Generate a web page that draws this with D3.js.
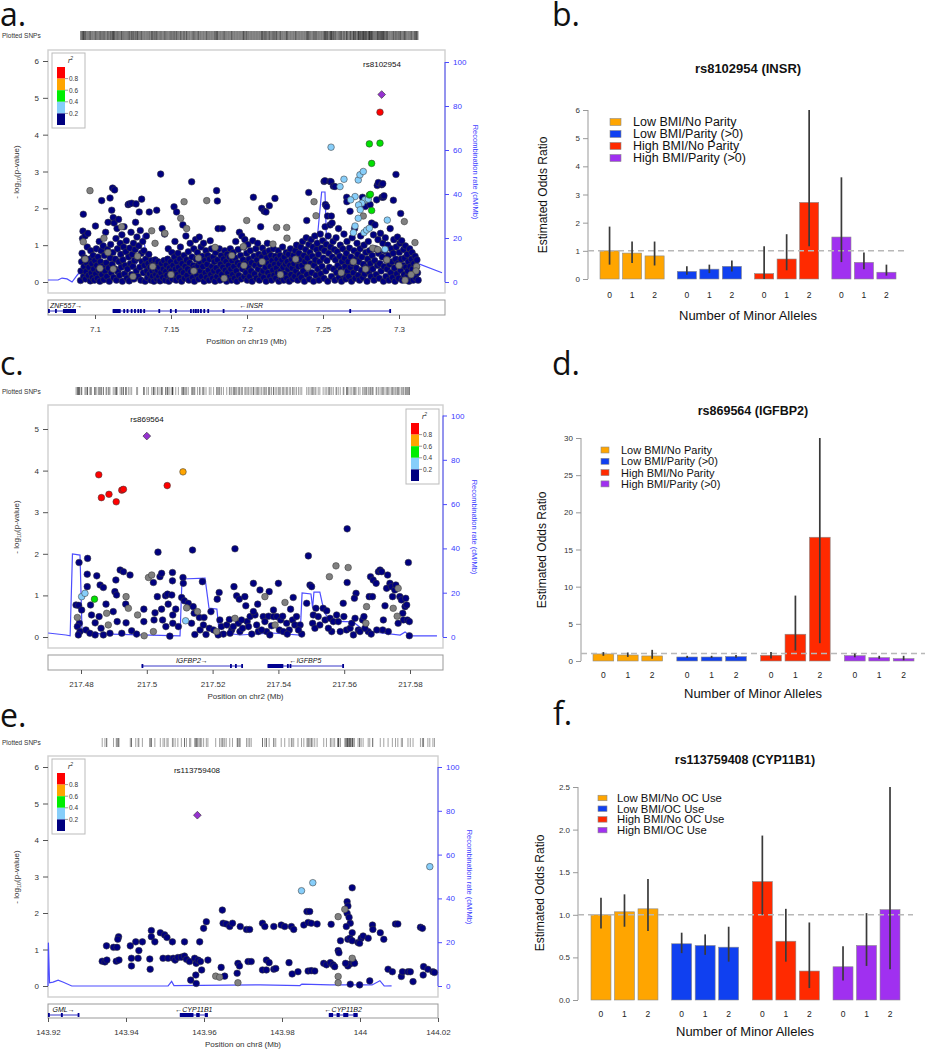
<!DOCTYPE html>
<html><head><meta charset="utf-8">
<script src="https://cdn.jsdelivr.net/npm/d3@7"></script>
<style>
body{margin:0;background:#fff}
svg{display:block}
text{font-family:"Liberation Sans",Arial,sans-serif}
.letter{font-family:"Open Sans","Noto Sans",sans-serif;font-size:32px;fill:#111}
</style>
</head><body><script>
// ================= DATA =================
// ---- Panel a: chr19 INSR region (pos Mb, -log10 p) ----
const navyA=[[7.0905,0.04],[7.0908,0.3],[7.0912,0.55],[7.0915,0.78],[7.0918,1.18],[7.0921,1.38],[7.0923,1.84],[7.0925,0.15],[7.0928,0.42],[7.0931,0.66],[7.0935,1.25],[7.0938,0.08],[7.0942,0.28],[7.0946,0.52],[7.0949,0.95],[7.0953,1.32],[7.0957,0.18],[7.0961,0.4],[7.0965,0.62],[7.0969,0.03],[7.0972,0.85],[7.0976,0.25],[7.098,0.5],[7.0984,0.12],[7.0988,0.72],[7.0992,0.35],[7.0996,0.05],[7.1,0.58],[7.1003,1.52],[7.1005,0.22],[7.1009,0.9],[7.1012,0.45],
[7.1016,0.1],[7.102,0.68],[7.1024,0.32],[7.1028,1.1],[7.1032,0.02],[7.1036,0.55],[7.104,0.85],[7.1044,2.21],[7.1046,0.2],[7.105,0.42],[7.1054,0.98],[7.1058,0.06],[7.1062,0.72],[7.1066,0.3],[7.107,1.35],[7.1074,0.52],[7.1078,0.15],[7.1082,0.88],[7.1086,1.62],[7.109,0.38],[7.1094,0.02],[7.1099,2.28],[7.11,0.65],[7.1103,1.02],[7.1107,0.25],[7.111,1.95],[7.1113,0.48],[7.1116,2.55],[7.1118,0.8],[7.112,1.75],[7.1122,0.12],[7.1126,1.6],[7.1129,2.5],[7.113,0.36],[7.1134,0.62],[7.1138,1.18],[7.1141,0.05],[7.1145,1.45],[7.1148,0.9],[7.1151,0.28],[7.1155,1.7],[7.1158,0.55],[7.1162,0.18],[7.1166,1.05],[7.117,0.75],[7.1173,0.4],[7.1177,1.28],[7.118,0.02],[7.1184,0.6],[7.1188,0.95],[7.1191,1.5],[7.1195,0.22],[7.1199,0.45],[7.1203,0.82],[7.1206,1.12],[7.121,0.1],[7.1214,0.35],[7.1218,2.1],[7.1221,0.68],[7.1225,0.03],[7.1226,2.12],[7.1229,0.92],[7.1233,0.5],[7.1237,1.35],[7.124,0.2],[7.1242,2.14],[7.1245,0.75],[7.1249,0.42],[7.1253,1.05],[7.1256,0.08],[7.126,0.58],[7.127,2.12],[7.1264,0.88],[7.1267,1.62],[7.1272,0.3],[7.1276,1.22],[7.128,0.65],[7.1283,0.15],[7.1287,0.98],[7.1291,1.9],[7.1295,0.4],[7.1298,1.4],[7.1302,0.05],[7.1305,0.78],[7.1307,2.25],[7.131,0.55],[7.1314,1.1],[7.1318,0.25],
[7.1322,0.85],[7.1326,0.45],[7.133,0.02],[7.1334,0.62],[7.1338,1.25],[7.1342,0.3],[7.1346,0.12],[7.135,0.5],[7.1354,0.75],[7.1357,1.9],[7.136,0.22],[7.1364,0.4],[7.1368,0.05],[7.1372,0.58],[7.1376,0.3],[7.138,0.15],[7.1384,0.48],[7.1388,0.02],[7.1392,0.36],[7.1396,0.6],[7.14,0.2],[7.1404,0.45],[7.1406,1.95],[7.1408,0.08],[7.1412,0.32],[7.1416,0.55],[7.142,0.15],[7.1424,0.4],[7.1428,0.03],[7.1432,2.93],[7.1434,0.25],[7.1438,0.5],[7.1442,1.45],[7.1446,0.12],[7.145,0.35],[7.1454,0.58],[7.1458,1.3],[7.1462,0.05],[7.1466,0.28],[7.147,0.46],[7.1474,0.18],[7.1478,0.62],[7.1482,0.9],[7.1486,0.02],[7.149,0.38],[7.1494,0.15],[7.1498,0.55],[7.1502,0.3],[7.1506,0.8],[7.151,0.08],[7.1514,0.45],[7.152,2.04],[7.1518,0.22],[7.1522,0.68],[7.1526,1.1],[7.153,0.35],[7.1537,1.9],
[7.1534,0.05],[7.1538,0.55],[7.1542,0.2],[7.1546,0.78],[7.155,0.4],[7.1554,0.12],[7.1558,0.62],[7.1562,0.95],[7.1566,0.3],[7.157,0.02],[7.1574,0.5],[7.1578,1.55],[7.1582,0.25],[7.1586,0.72],[7.159,0.1],[7.1594,0.42],[7.1598,1.25],[7.1602,0.6],[7.1606,0.18],[7.161,0.35],[7.1614,0.82],[7.1618,0.05],[7.1622,0.52],[7.1626,1.05],[7.163,0.28],[7.1636,2.72],[7.1638,0.68],[7.1642,0.12],[7.1646,0.45],[7.165,0.9],[7.1654,0.02],[7.1658,0.38],[7.1662,1.15],[7.1666,0.62],[7.167,0.2],[7.1674,0.8],[7.1678,0.45],[7.1682,0.08],[7.1686,1.22],[7.169,0.55],[7.1694,0.3],[7.1698,0.95],[7.1702,0.15],[7.1706,0.7],[7.171,0.42],[7.1714,1.05],[7.1718,0.02],[7.1722,0.58],[7.1726,0.25],[7.173,0.85],[7.1734,0.12],[7.1738,0.48],[7.1742,0.72],[7.1746,0.32],[7.175,0.05],[7.1754,0.62],[7.1758,1.12],[7.1762,0.2],[7.1766,0.9],[7.177,0.42],[7.1774,0.1],[7.1778,0.68],[7.18,2.48],[7.1805,2.2],[7.1782,0.3],[7.1786,0.55],[7.179,0.02],[7.1794,0.8],[7.1798,0.38],[7.1802,0.15],[7.1806,0.6],[7.181,1.45],[7.1814,0.28],[7.1818,0.9],[7.1822,0.05],[7.1826,0.48],[7.183,0.72],[7.1834,0.2],[7.1838,1.45],[7.1842,0.4],[7.1846,0.62],[7.185,0.1],[7.1854,0.85],[7.1858,0.32],[7.1862,0.55],[7.1866,0.02],[7.187,0.75],[7.1874,0.25],[7.1878,0.45],[7.1882,0.12],[7.1886,0.68],[7.189,0.9],[7.1894,0.35],[7.1898,0.05],[7.1902,0.58],[7.1906,0.2],[7.191,0.8],[7.1914,0.42],[7.1918,0.1],[7.1922,0.65],[7.1926,1.1],[7.193,0.3],[7.1934,0.02],[7.1938,0.52],[7.1942,0.88],[7.1946,0.18],[7.195,1.35],[7.1954,0.45],[7.1958,0.72],[7.1962,0.08],[7.1966,1.25],[7.197,0.35],[7.1974,0.6],[7.1978,0.95],[7.1982,0.15],[7.1986,1.15],[7.199,0.5],[7.1994,0.25],
[7.1998,0.78],[7.2002,0.05],[7.2006,1.02],[7.201,0.4],[7.2014,0.62],[7.2018,0.15],[7.2022,0.85],[7.2026,0.3],[7.203,0.52],[7.2034,0.02],[7.2038,1.12],[7.2042,2.3],[7.2046,0.7],[7.205,0.22],[7.2054,0.45],[7.2058,0.9],[7.2062,0.1],[7.2066,0.6],[7.207,1.05],[7.2074,0.35],[7.2078,0.75],[7.2082,0.05],[7.2086,0.48],[7.209,1.5],[7.2094,0.2],[7.2097,2.0],[7.2098,0.68],[7.2102,0.92],[7.2106,0.3],[7.211,0.12],[7.2113,1.92],[7.2114,0.55],[7.2118,0.8],[7.2122,0.4],[7.2125,1.9],[7.2126,0.02],[7.213,0.65],[7.2134,1.05],[7.2138,0.25],[7.2142,0.5],[7.2147,2.07],[7.2146,0.85],[7.215,0.15],[7.2154,0.42],[7.2158,0.72],[7.2162,0.05],[7.2166,0.58],[7.217,0.32],[7.2174,0.9],[7.2178,0.18],[7.2184,2.27],[7.2182,0.48],[7.2186,0.7],[7.219,0.1],[7.2194,0.38],[7.2198,0.62],[7.2202,0.25],[7.2206,0.85],[7.221,0.02],[7.2214,0.5],[7.2218,0.72],[7.2222,0.3],[7.2226,0.12],[7.223,0.6],[7.2234,0.95],[7.2238,0.4],[7.2242,0.05],[7.2246,0.68],[7.225,0.22],[7.2254,0.48],[7.2258,0.8],[7.2262,0.1],[7.2266,0.55],[7.227,0.35],[7.2274,0.75],[7.2278,0.02],[7.2282,0.45],[7.2286,0.9],[7.229,0.2],[7.2294,0.62],[7.2298,0.38],[7.2302,0.08],[7.2306,0.72],[7.231,0.5],[7.2314,0.15],[7.2318,0.85],[7.2322,0.3],[7.2326,1.0],[7.233,0.58],[7.2334,0.05],[7.2338,0.42],[7.2342,0.78],[7.2346,0.2],
[7.235,0.62],[7.2354,0.95],[7.2358,0.12],[7.2362,0.45],[7.2366,1.1],[7.237,0.3],[7.2374,0.72],[7.2378,0.02],[7.2382,0.55],[7.2386,0.88],[7.239,1.2],[7.2393,1.67],[7.2394,0.2],[7.2398,0.65],[7.2402,0.4],[7.2406,2.43],[7.2407,1.02],[7.241,0.08],[7.2414,0.8],[7.2418,0.5],[7.2422,1.15],[7.2426,0.25],[7.243,0.7],[7.2434,0.95],[7.2438,0.02],[7.2442,0.45],[7.2446,1.25],[7.245,0.6],[7.2454,0.18],[7.2458,0.88],[7.2462,1.05],[7.2466,0.35],[7.247,0.75],[7.2474,0.05],[7.2478,0.55],[7.2482,1.3],[7.2486,0.22],[7.249,0.92],[7.2494,0.42],[7.2498,1.12],[7.2502,0.65],[7.2507,2.73],[7.2506,0.1],[7.251,0.85],[7.2513,2.75],[7.2514,1.5],[7.2516,2.1],[7.2518,0.3],[7.2522,1.02],[7.2524,2.05],[7.2526,0.58],[7.253,1.79],[7.2531,0.02],[7.2534,1.25],[7.2538,0.78],[7.2542,0.4],[7.2546,2.73],[7.2547,1.55],[7.255,0.95],[7.2553,2.72],[7.2555,1.79],[7.2556,0.15],[7.256,1.6],[7.2562,0.68],[7.2566,1.1],[7.2568,2.6],[7.257,0.35],[7.2574,0.88],[7.2579,2.59],
[7.2578,0.05],[7.2582,0.6],[7.2586,1.2],[7.259,0.25],[7.2594,0.82],[7.2598,0.45],[7.2602,1.45],[7.2606,0.12],[7.261,0.7],[7.2614,1.0],[7.2618,0.35],[7.2622,0.02],[7.2626,0.55],[7.263,0.9],[7.2634,0.2],[7.2638,1.3],[7.2642,0.65],[7.2646,0.42],[7.265,0.08],[7.2656,2.3],[7.2657,2.18],[7.2654,0.78],[7.2658,1.1],[7.2662,0.3],[7.2666,0.55],[7.267,0.15],[7.2674,0.92],[7.2678,1.92],[7.268,0.4],[7.2684,0.68],[7.2688,0.02],[7.2692,1.2],[7.2696,0.5],[7.27,0.25],[7.2704,0.85],[7.2708,1.45],[7.2712,0.1],[7.2716,0.62],[7.272,0.38],[7.2724,1.05],[7.2728,0.75],[7.2732,0.18],[7.2736,0.55],[7.274,0.05],[7.2744,0.9],[7.2748,1.25],[7.2752,0.32],[7.2756,0.68],[7.276,2.3],[7.2762,0.12],[7.2766,0.48],[7.277,1.0],[7.2774,0.22],[7.2778,2.05],[7.2782,0.8],[7.2786,0.4],[7.279,0.02],[7.2794,0.62],[7.2798,1.1],[7.2802,0.28],[7.2806,0.85],[7.281,2.1],[7.2812,0.5],[7.2816,0.15],[7.282,1.6],[7.2824,0.72],[7.2828,0.35],[7.2832,1.28],[7.2836,0.05],[7.284,0.58],[7.2842,1.55],[7.2846,0.9],[7.285,0.2],[7.2853,2.23],[7.2857,2.62],[7.2858,0.45],[7.2862,1.15],[7.2864,2.7],[7.2866,0.78],[7.287,0.1],[7.2874,0.5],[7.2878,1.32],[7.2882,0.3],[7.2886,2.64],[7.2888,2.3],[7.2893,2.67],[7.2897,2.3],[7.289,0.68],[7.2894,1.05],[7.2898,0.02],[7.2901,2.34],[7.2902,0.42],[7.2906,0.85],[7.291,1.2],[7.2914,0.15],[7.2918,0.6],[7.2922,0.35],[7.2926,1.0],[7.293,0.72],[7.2934,0.05],[7.2938,0.48],[7.2942,1.45],[7.2946,0.25],[7.295,0.9],[7.2954,0.55],[7.2958,0.12],[7.2963,2.22],[7.2962,0.78],[7.2966,1.15],[7.297,0.38],[7.2974,0.02],[7.298,2.92],[7.2978,0.62],[7.2982,0.95],[7.2986,0.22],[7.299,1.22],[7.2994,0.5],[7.2998,0.1],[7.3002,0.8],[7.3006,1.05],[7.3011,1.86],[7.301,0.32],[7.3014,0.62],[7.3018,1.12],[7.3022,0.05],[7.3026,0.45],[7.303,0.88],[7.3034,0.2],[7.3038,0.65],[7.3042,0.98],[7.3046,0.4],[7.305,0.12],[7.3054,0.75],[7.3058,0.3],[7.3062,0.55],[7.3066,0.02],[7.307,0.9],[7.3074,0.42],[7.3078,0.18],[7.3082,0.62],[7.3086,0.8],[7.309,0.35],[7.3094,0.05],[7.3098,0.5],[7.3102,0.22],[7.3106,0.7],[7.311,0.12],[7.3114,0.42],[7.3118,0.6],[7.3122,0.25],[7.3126,0.05]];
const grayA=[[7.0967,2.48],[7.0923,1.09],[7.1059,1.19],[7.1175,1.5],[7.1373,1.39],[7.1395,1.05],[7.146,1.32],[7.1564,1.73],[7.1586,2.18],[7.1603,1.45],[7.1735,2.21],[7.179,0.94],[7.1976,0.96],[7.1998,1.67],[7.2171,1.03],[7.2195,1.48],[7.2261,1.48],[7.2263,1.19],[7.2441,2.18],[7.2454,1.8],[7.2765,1.79],[7.2827,0.92],[7.3035,1.64],[7.3105,1.07],[7.3116,0.42],[7.304,0.05],[7.3112,0.3],[7.1033,0.37],[7.112,0.35],[7.125,0.15],[7.138,0.42],[7.15,0.2],[7.165,0.3],[7.185,0.1],[7.198,0.45],[7.21,0.55],[7.222,0.2],[7.24,0.4],[7.262,0.25],[7.278,0.35],[7.292,0.6],[7.3,0.45],[7.308,0.2],[7.0935,0.62],[7.1085,0.8],[7.128,0.7],[7.168,0.65],[7.19,0.72],[7.232,0.62],[7.27,0.55],[7.286,0.88]];
const lightblueA=[[7.2553,3.66],[7.2612,2.59],[7.2638,2.79],[7.2732,2.77],[7.2743,2.91],[7.2765,3.0],[7.2711,2.32],[7.2682,2.23],[7.2776,2.23],[7.2755,2.14],[7.2734,2.09],[7.2745,1.96],[7.2798,2.25],[7.2732,1.73],[7.2711,1.52],[7.27,1.34],[7.277,1.34],[7.2787,1.41],[7.2805,1.46],[7.2923,1.68],[7.2908,0.89]];
const greenA=[[7.2805,3.75],[7.2875,3.77],[7.282,3.22],[7.2805,2.36],[7.2812,2.38],[7.282,1.94]];
const orangeA=[];
const redA=[[7.2875,4.61]];
const leadA={name:"rs8102954",pos:7.2886,logp:5.09};
const recombA=[[7.0691,0.9],[7.0757,0.9],[7.0783,1.8],[7.0816,1.4],[7.0849,0],[7.0888,3.6],[7.0921,4.5],[7.1033,5.5],[7.1263,7.3],[7.1296,10.9],[7.1316,21.4],[7.1336,12.3],[7.1362,7.3],[7.148,9],[7.1507,6.8],[7.202,5.5],[7.2349,4.5],[7.2454,5.5],[7.246,18.2],[7.2491,40.9],[7.2513,40.9],[7.2523,19.1],[7.2546,10.9],[7.2743,9.1],[7.3053,9.1],[7.3118,8.6],[7.3283,4.2]];
const genesA=[
 {name:"ZNF557",strand:1,start:7.0691,end:7.0875,exons:[[7.0691,7.0697],[7.0737,7.0748],[7.0789,7.0875]]},
 {name:"INSR",strand:-1,start:7.1116,end:7.2941,exons:[[7.1116,7.1169],[7.1186,7.1189],[7.1208,7.1211],[7.1235,7.1238],[7.1257,7.126],[7.1279,7.1282],[7.1296,7.1299],[7.1318,7.1321],[7.1417,7.142],[7.1493,7.1496],[7.1526,7.1529],[7.1625,7.1628],[7.1643,7.1646],[7.1658,7.1661],[7.1673,7.1676],[7.1691,7.1694],[7.1713,7.1716],[7.1739,7.1742],[7.184,7.1843],[7.2673,7.2676],[7.2936,7.2941]]}];
const xTicksA=[7.1,7.15,7.2,7.25,7.3];

// ---- Panel c: chr2 IGFBP2 region ----
const navyC=[[217.4794,1.79],[217.482,1.89],[217.4819,1.51],[217.4848,1.47],[217.4785,0.77],[217.4793,0.76],[217.4795,0.33],[217.4789,0.25],[217.4797,0.13],[217.4792,0.05],[217.4802,0.65],[217.4819,1.21],[217.4829,0.77],[217.4832,0.53],[217.4815,0.17],[217.4827,0.09],[217.4843,0.34],[217.4855,0.49],[217.4858,1.25],[217.4868,1.19],[217.4861,0.21],[217.4843,0.05],[217.4876,0.79],[217.4898,0.61],[217.4903,1.09],[217.4908,1.01],[217.4906,1.37],[217.4919,1.61],[217.4929,1.57],[217.4936,0.79],[217.4949,1.49],[217.491,0.37],[217.4888,0.09],[217.4868,0.05],[217.4924,0.09],[217.4937,0.34],[217.4954,0.15],[217.4969,0.07],[217.4991,0.67],[217.4991,0.37],[217.502,1.31],[217.5025,0.58],[217.5022,0.41],[217.5034,2.04],[217.504,1.45],[217.5045,1.53],[217.5048,0.41],[217.5045,0.67],[217.5032,0.97],[217.5057,0.99],[217.5063,1.03],[217.5076,1.01],[217.5078,1.55],[217.5078,1.35],[217.5065,0.79],[217.5058,0.25],[217.507,0.02],[217.5079,0.53],[217.5079,0.33],[217.5088,0.67],[217.5096,0.25],[217.5106,0.95],[217.511,1.43],[217.5111,1.29],[217.5114,0.87],[217.5126,0.81],[217.5139,2.09],[217.5141,0.73],[217.5136,0.33],[217.5144,0.57],[217.516,0.47],[217.5146,0.06],[217.5162,0.17],[217.5172,0.29],[217.5169,1.33],[217.5174,0.47],[217.518,0.06],[217.519,0.21],[217.5195,0.61],[217.5214,0.91],[217.522,1.07],[217.5222,0.41],[217.5227,0.25],[217.5233,0.07],[217.5243,0.29],[217.5251,0.42],[217.5258,0.17],[217.5265,1.21],[217.5268,2.12],[217.5273,0.99],[217.5278,0.33],[217.5283,0.13],[217.5281,0.91],[217.5298,0.97],[217.5301,0.75],[217.5305,0.37],[217.5314,0.49],[217.5309,0.25],[217.5324,1.29],[217.5329,0.53],[217.5334,0.29],[217.5337,0.79],[217.5339,0.13],[217.5344,1.13],[217.5354,0.49],[217.5359,0.37],[217.5364,0.13],[217.5372,1.09],[217.537,0.5],[217.5379,0.27],[217.5385,0.49],[217.5395,0.49],[217.54,1.29],[217.5403,0.17],[217.5407,0.41],[217.5413,0.5],[217.5425,0.33],[217.5433,0.17],[217.5437,0.67],[217.5443,0.41],[217.5445,0.95],[217.545,0.29],[217.5455,0.49],[217.5466,0.29],[217.5471,0.07],[217.5486,0.81],[217.5491,1.95],[217.5496,1.25],[217.5501,1.21],[217.5506,0.53],[217.5504,0.33],[217.5511,0.21],[217.5514,0.69],[217.5521,0.49],[217.5526,0.29],[217.5536,0.69],[217.5547,0.63],[217.5542,0.41],[217.5557,0.45],[217.5567,0.37],[217.5562,0.13],[217.5577,0.53],[217.5582,0.37],[217.5599,0.49],[217.5597,0.81],[217.5609,2.6],[217.5609,1.31],[217.5607,0.17],[217.5618,0.21],[217.5623,0.33],[217.5633,0.45],[217.5636,1.05],[217.5631,0.93],[217.5643,0.17],[217.5648,0.13],[217.5656,0.41],[217.566,0.49],[217.5676,0.97],[217.568,1.45],[217.5686,0.97],[217.5673,0.13],[217.5682,0.07],[217.5688,1.37],[217.5697,1.29],[217.5704,1.57],[217.5709,1.61],[217.5714,1.57],[217.5719,0.41],[217.5717,0.17],[217.5724,0.75],[217.5729,1.17],[217.5732,1.49],[217.5739,1.29],[217.5744,1.21],[217.5747,0.97],[217.5754,1.13],[217.5757,1.25],[217.5769,0.97],[217.5774,0.89],[217.5778,0.57],[217.578,0.41],[217.5785,0.73],[217.579,0.77],[217.5792,0.41],[217.5795,1.79],[217.5798,0.37],[217.5798,0.03],[217.5787,0.93],
[217.5203,0.17],[217.5217,0.05],[217.5253,0.09],[217.5263,0.25],[217.5288,0.41],[217.5291,0.21],[217.5319,0.07],[217.5349,0.17],[217.5374,0.05],[217.5415,0.13],[217.5427,0.07],[217.5461,0.17],[217.5552,0.21],[217.5588,0.13],[217.5628,0.05],[217.5663,0.21],[217.5699,0.17],[217.5734,0.13],[217.5764,0.33],[217.5324,0.61],[217.5385,0.65]];
const grayC=[[217.4789,0.47],[217.4878,0.57],[217.4883,0.29],[217.4937,0.97],[217.4944,0.69],[217.4972,0.53],[217.4992,0.03],[217.5005,1.43],[217.5015,1.49],[217.502,0.13],[217.5121,0.7],[217.5154,0.61],[217.5212,0.13],[217.5268,0.45],[217.5359,0.97],[217.539,0.29],[217.542,0.83],[217.5555,1.45],[217.5575,1.71],[217.5612,1.67],[217.5668,0.73],[217.5666,0.33],[217.5749,0.69],[217.5761,0.5],[217.5764,1.17]];
const lightblueC=[[217.4802,0.97],[217.4812,1.05],[217.5118,0.39]];
const greenC=[[217.4841,0.91]];
const orangeC=[[217.511,3.97]];
const redC=[[217.4854,3.9],[217.4862,3.35],[217.4885,3.43],[217.4907,3.25],[217.4924,3.53],[217.4929,3.55],[217.5062,3.64]];
const leadC={name:"rs869564",pos:217.5,logp:4.83};
const recombC=[[217.47,1.8],[217.4754,0.9],[217.4767,0.5],[217.4774,37.5],[217.4797,37],[217.4803,3.2],[217.4858,1.4],[217.5101,0.5],[217.5107,26.2],[217.5177,26.6],[217.5189,13.1],[217.5213,12.6],[217.522,2.3],[217.5283,0.9],[217.5381,1.8],[217.5466,0.9],[217.5472,19.9],[217.5499,19.4],[217.5504,13.1],[217.5508,20.3],[217.5526,20.3],[217.5539,11.3],[217.5557,7.2],[217.5627,6.8],[217.5663,2.7],[217.577,0.9],[217.5785,2.3],[217.58,0.5],[217.5882,0.5]];
const genesC=[
 {name:"IGFBP2",strand:1,start:217.4984,end:217.529,exons:[[217.4984,217.4987],[217.5253,217.5256],[217.5268,217.5271],[217.5287,217.529]]},
 {name:"IGFBP5",strand:-1,start:217.5367,end:217.5597,exons:[[217.5367,217.5415],[217.5426,217.5429],[217.5434,217.5437],[217.5594,217.5597]]}];
const xTicksC=[217.48,217.5,217.52,217.54,217.56,217.58];

// ---- Panel e: chr8 CYP11B1 region ----
const navyE=[[143.9339,0.68],[143.9346,0.66],[143.9351,0.71],[143.935,1.1],[143.9368,1.06],[143.9377,1.06],[143.9381,1.35],[143.9379,1.28],[143.9375,0.68],[143.9382,0.71],[143.9411,1.1],[143.9414,0.76],[143.9414,0.55],[143.9425,1.21],[143.9433,0.97],[143.9431,0.76],[143.9442,1.21],[143.9461,0.74],[143.9462,0.46],[143.9465,1.52],[143.9465,1.35],[143.9474,1.21],[143.9488,1.46],[143.9495,0.76],[143.9499,1.4],[143.9505,1.33],[143.9508,0.76],[143.9519,1.21],[143.9521,0.76],[143.9526,0.71],[143.9533,0.78],[143.9542,0.79],[143.955,1.21],[143.955,0.82],[143.9555,0.73],[143.9563,0.67],[143.9566,0.16],[143.9576,0.76],[143.958,0.62],[143.958,0.07],[143.9579,0.3],[143.9585,0.71],[143.9589,1.21],[143.9591,0.67],[143.9594,0.44],[143.9599,1.58],[143.9606,1.76],[143.961,0.71],[143.9647,2.08],[143.9644,0.51],[143.9653,0.27],[143.9649,1.72],[143.9657,1.7],[143.9666,1.63],[143.9673,1.72],[143.9687,0.62],[143.9685,0.35],[143.9691,0.55],[143.9693,1.63],[143.9709,1.55],[143.9713,0.67],[143.9721,0.67],[143.9717,1.55],[143.975,1.72],[143.9756,1.63],[143.975,0.44],[143.976,0.71],[143.976,0.44],[143.9767,0.64],[143.9779,0.46],[143.9784,0.48],[143.9779,1.63],[143.9798,1.67],[143.9807,1.63],[143.9818,0.64],[143.9824,1.63],[143.983,1.55],[143.9826,0.33],[143.9841,0.39],[143.9856,1.67],[143.9864,2.04],[143.9871,2.04],[143.9867,1.74],[143.9875,1.72],[143.989,1.7],[143.9867,0.41],[143.9875,0.42],[143.9884,0.41],[143.9907,0.62],[143.9914,0.58],[143.9924,0.64],[143.9926,1.69],[143.9931,0.58],[143.9935,0.53],[143.9944,0.97],[143.9946,0.91],[143.995,1.24],[143.9967,2.31],[143.9969,2.19],[143.9967,1.99],[143.9972,1.88],[143.9975,1.72],[143.9965,1.63],[143.9969,1.28],[143.9974,1.31],[143.9974,0.6],[143.998,1.24],[143.998,1.46],[143.9975,0.05],[143.998,2.69],[143.9983,0.67],[143.9986,0.62],[143.9969,0.55],[143.9963,0.62],[143.9995,1.19],[143.9999,0.03],[144.0003,1.31],[144.0008,1.37],[143.9999,1.17],[144.0021,1.31],[144.0025,0.14],[144.0032,1.67],[144.0033,1.55],[144.0052,1.46],[144.0061,1.28],[144.0072,0.46],[144.0083,0.39],[144.0091,1.7],[144.0097,1.7],[144.0106,0.26],[144.0109,0.39],[144.0123,0.39],[144.0129,0.39],[144.0136,0.12],[144.0155,1.61],[144.016,1.58],[144.0162,0.3],[144.0163,0.53],[144.0174,0.46],[144.0187,0.39],[144.0191,0.37]];
const grayE=[[143.963,0.27],[143.964,0.24],[143.9687,0.09],[143.9944,1.9],[143.9944,0.26],[143.9944,0.09],[143.9961,2.1],[143.998,0.76]];
const lightblueE=[[143.985,2.61],[143.9879,2.83],[144.0179,3.27]];
const leadE={name:"rs113759408",pos:143.9583,logp:4.68};
const recombE=[[143.92,0],[143.9201,19.8],[143.9204,1.5],[143.9213,1.8],[143.9226,2.7],[143.9238,1.8],[143.9261,0],[143.9508,0.1],[143.9517,2.1],[143.9523,0.2],[143.9744,0.5],[143.9846,0.2],[143.9851,0.9],[143.9923,0.5],[144.0031,0.5],[144.0051,2.4],[144.0062,0],[144.0081,0.1]];
const genesE=[
 {name:"GML",strand:1,start:143.92,end:143.928,exons:[[143.92,143.9204],[143.9233,143.9238],[143.9276,143.928]]},
 {name:"CYP11B1",strand:-1,start:143.9538,end:143.961,exons:[[143.9538,143.9573],[143.958,143.9589],[143.9602,143.961]]},
 {name:"CYP11B2",strand:-1,start:143.992,end:143.9994,exons:[[143.992,143.9931],[143.994,143.9948],[143.9957,143.997],[143.9983,143.9994]]}];
const xTicksE=[143.92,143.94,143.96,143.98,144,144.02];

const r2Colors=["#FF0000","#FFA500","#00EE00","#87CEFA","#000080"];
const r2Labels=["0.8","0.6","0.4","0.2"];
const recombTicks=[0,20,40,60,80,100];

// ---- Bar charts (odds ratios by minor allele count) ----
const alleles=["0","1","2"];
const barColors=["#FFA500","#1040F0","#FF2A00","#A030F0"];
const groupsB=["Low BMI/No Parity","Low BMI/Parity (>0)","High BMI/No Parity","High BMI/Parity (>0)"];
const orB=[[1.0,0.92,0.82],[0.27,0.35,0.45],[0.19,0.71,2.72],[1.49,0.59,0.24]];
const loB=[[0.51,0.57,0.48],[0.15,0.21,0.27],[0.0,0.31,1.16],[0.6,0.35,0.12]];
const hiB=[[1.86,1.33,1.33],[0.45,0.51,0.66],[1.16,1.59,6.0],[3.61,0.94,0.51]];
const groupsD=groupsB;
const orD=[[0.95,0.81,0.68],[0.54,0.54,0.6],[0.77,3.6,16.65],[0.72,0.45,0.32]];
const loD=[[0.7,0.55,0.3],[0.4,0.4,0.45],[0.35,1.4,2.4],[0.5,0.3,0.1]];
const hiD=[[1.2,1.15,1.5],[0.7,0.7,0.8],[1.2,8.8,30],[1.0,0.7,0.7]];
const groupsF=["Low BMI/No OC Use","Low BMI/OC Use","High BMI/No OC Use","High BMI/OC Use"];
const orF=[[1.0,1.035,1.07],[0.66,0.64,0.62],[1.39,0.69,0.34],[0.39,0.64,1.06]];
const loF=[[0.84,0.86,0.81],[0.55,0.53,0.45],[1.0,0.45,0.14],[0.23,0.4,0.36]];
const hiF=[[1.2,1.24,1.42],[0.79,0.77,0.86],[1.93,1.07,0.91],[0.63,1.02,2.5]];

// ================= DRAWING =================
const svg=d3.select("body").append("svg").attr("width",927).attr("height",1050);

function drawLocus(P){
  const g=svg.append("g");
  const [bx0,bx1,by0,by1]=P.box;
  const x=d3.scaleLinear().domain(P.xd).range(P.xr);
  const y=d3.scaleLinear().domain([0,P.ymax]).range(P.yr);
  const yR=d3.scaleLinear().domain([0,100]).range(P.rr);
  g.append("text").attr("class","letter").attr("x",P.letter[1]).attr("y",P.letter[2]).text(P.letter[0]);
  // Plotted SNPs rug
  const all=[].concat(P.navy,P.gray,P.lb,P.green,P.orange,P.red,[[P.lead.pos,P.lead.logp]]);
  g.append("text").attr("x",2).attr("y",(P.rug[0]+P.rug[1])/2+2.5).attr("font-size",6.5).attr("fill","#333").text("Plotted SNPs");
  g.append("g").selectAll("line").data(all).join("line")
    .attr("x1",d=>x(d[0])).attr("x2",d=>x(d[0])).attr("y1",P.rug[0]).attr("y2",P.rug[1])
    .attr("stroke","#222").attr("stroke-width",0.7).attr("stroke-opacity",0.6);
  // box
  g.append("rect").attr("x",bx0).attr("y",by0).attr("width",bx1-bx0).attr("height",by1-by0)
    .attr("fill","none").attr("stroke","#cfcfcf").attr("stroke-width",1.4);
  // left axis
  const la=g.append("g").attr("transform",`translate(${bx0},0)`)
    .call(d3.axisLeft(y).tickValues(d3.range(0,P.ymaxTick+1)).tickSize(5).tickPadding(4).tickFormat(d3.format("d")));
  la.select(".domain").remove();
  la.selectAll("line").attr("stroke","#555");
  la.selectAll("text").attr("font-size",8).attr("fill","#333").attr("font-family","Liberation Sans, Arial, sans-serif");
  // right axis
  const ra=g.append("g").attr("transform",`translate(${bx1},0)`)
    .call(d3.axisRight(yR).tickValues(recombTicks).tickSize(4).tickPadding(4));
  ra.select(".domain").attr("stroke","#4a4aff").attr("d",`M0,${yR(0)}V${yR(100)}`);
  ra.selectAll("line").attr("stroke","#4a4aff");
  ra.selectAll("text").attr("font-size",8).attr("fill","#3a3aff").attr("font-family","Liberation Sans, Arial, sans-serif");
  // axis titles
  const yt=g.append("text").attr("transform",`translate(19,${P.ymid}) rotate(-90)`).attr("text-anchor","middle").attr("font-size",8).attr("fill","#333");
  yt.append("tspan").text("- log");
  yt.append("tspan").attr("font-size",5.5).attr("dy",2).text("10");
  yt.append("tspan").attr("dy",-2).text("(p-value)");
  g.append("text").attr("transform",`translate(${P.rtx},${P.ymid}) rotate(90)`).attr("text-anchor","middle")
    .attr("font-size",7.5).attr("fill","#4040ff").text("Recombination rate (cM/Mb)");
  // recombination line
  g.append("path").datum(P.recomb).attr("fill","none").attr("stroke","#4d4dff").attr("stroke-width",1.2)
    .attr("d",d3.line().x(d=>x(d[0])).y(d=>yR(d[1])));
  // points
  const pts=g.append("g");
  function dots(arr,fill){
    pts.append("g").selectAll("circle").data(arr).join("circle")
      .attr("cx",d=>x(d[0])).attr("cy",d=>y(d[1])).attr("r",3.3)
      .attr("fill",fill).attr("stroke","#3a3a3a").attr("stroke-width",0.55);
  }
  dots(P.navy,"#000080");
  dots(P.gray,"#808080");
  dots(P.lb,"#87CEFA");
  dots(P.green,"#00E000");
  dots(P.orange,"#FFA500");
  dots(P.red,"#FF0000");
  pts.append("path").attr("d",d3.symbol(d3.symbolSquare,30)())
    .attr("transform",`translate(${x(P.lead.pos)},${y(P.lead.logp)}) rotate(45)`)
    .attr("fill","#9632D0").attr("stroke","#333").attr("stroke-width",0.6);
  g.append("text").attr("x",P.leadLabel[0]).attr("y",P.leadLabel[1]).attr("text-anchor","middle")
    .attr("font-size",8).attr("fill","#111").text(P.lead.name);
  // r2 legend
  const [lx,ly]=P.legend;
  const lg=g.append("g").attr("transform",`translate(${lx},${ly})`);
  lg.append("rect").attr("width",33).attr("height",75).attr("fill","#fff").attr("stroke","#bbb").attr("stroke-width",1);
  const lt=lg.append("text").attr("x",16).attr("y",10).attr("font-size",7).attr("font-style","italic").attr("fill","#222");
  lt.append("tspan").text("r");
  lt.append("tspan").attr("font-size",5).attr("dy",-3).text("2");
  const segH=11.6;
  lg.selectAll("rect.seg").data(r2Colors).join("rect").attr("class","seg")
    .attr("x",5).attr("y",(d,i)=>14+i*segH).attr("width",8).attr("height",segH).attr("fill",d=>d);
  lg.selectAll("line.tk").data(r2Labels).join("line").attr("class","tk")
    .attr("x1",13).attr("x2",16).attr("y1",(d,i)=>14+(i+1)*segH).attr("y2",(d,i)=>14+(i+1)*segH).attr("stroke","#555").attr("stroke-width",0.6);
  lg.selectAll("text.lb").data(r2Labels).join("text").attr("class","lb")
    .attr("x",17).attr("y",(d,i)=>14+(i+1)*segH+2.3).attr("font-size",6.5).attr("fill","#333").text(d=>d);
  // gene track
  const [gy0,gy1]=P.gbox;
  g.append("rect").attr("x",bx0).attr("y",gy0).attr("width",bx1-bx0).attr("height",gy1-gy0)
    .attr("fill","none").attr("stroke","#999").attr("stroke-width",1);
  const ly2=gy0+11;
  P.genes.forEach(ge=>{
    const s=Math.max(x(ge.start),bx0), e=Math.min(x(ge.end),bx1);
    g.append("line").attr("x1",s).attr("x2",e).attr("y1",ly2).attr("y2",ly2).attr("stroke","#3838c8").attr("stroke-width",1);
    g.append("g").selectAll("rect").data(ge.exons).join("rect")
      .attr("x",d=>x(d[0])).attr("width",d=>Math.max(1.8,x(d[1])-x(d[0])))
      .attr("y",ly2-2).attr("height",4).attr("fill","#000090");
    const label=ge.strand>0?ge.name+"\u2192":"\u2190"+ge.name;
    const t=g.append("text").attr("y",gy0+8).attr("font-size",7).attr("font-style","italic").attr("fill","#111").text(label);
    const w=t.node().getComputedTextLength();
    let cx=(x(ge.start)+x(ge.end))/2-w/2;
    cx=Math.max(bx0+2,Math.min(bx1-2-w,cx));
    t.attr("x",cx);
  });
  // x axis
  const xa=g.append("g").attr("transform",`translate(0,${gy1})`)
    .call(d3.axisBottom(x).tickValues(P.xticks).tickSize(4).tickPadding(7).tickFormat(d=>String(+d.toFixed(3))));
  xa.select(".domain").remove();
  xa.selectAll("line").attr("stroke","#555");
  xa.selectAll("text").attr("font-size",8).attr("fill","#333").attr("font-family","Liberation Sans, Arial, sans-serif");
  g.append("text").attr("x",(bx0+bx1)/2).attr("y",gy1+29).attr("text-anchor","middle").attr("font-size",8).attr("fill","#333").text(P.xlabel);
}

drawLocus({letter:["a.",0,26],box:[48,445,50,293],xd:[7.1,7.3],xr:[95,399],ymax:6,ymaxTick:6,yr:[282,61],rr:[282,62],
  rug:[31,40],gbox:[300,315],ymid:172,rtx:473,legend:[52,53],leadLabel:[382,67],
  navy:navyA,gray:grayA,lb:lightblueA,green:greenA,orange:orangeA,red:redA,lead:leadA,recomb:recombA,genes:genesA,xticks:xTicksA,xlabel:"Position on chr19 (Mb)"});
drawLocus({letter:["c.",0,375],box:[48,443,405,648],xd:[217.48,217.58],xr:[81,410],ymax:5,ymaxTick:5,yr:[637,429],rr:[637,415.5],
  rug:[387,395],gbox:[655,670],ymid:527,rtx:472,legend:[406,409],leadLabel:[147,422],
  navy:navyC,gray:grayC,lb:lightblueC,green:greenC,orange:orangeC,red:redC,lead:leadC,recomb:recombC,genes:genesC,xticks:xTicksC,xlabel:"Position on chr2 (Mb)"});
drawLocus({letter:["e.",0,727],box:[48,438,756,997],xd:[143.92,144.02],xr:[48,438],ymax:6,ymaxTick:6,yr:[986,767],rr:[986,767],
  rug:[738,747],gbox:[1004,1018],ymid:877,rtx:467,legend:[52,759],leadLabel:[197,773],
  navy:navyE,gray:grayE,lb:lightblueE,green:[],orange:[],red:[],lead:leadE,recomb:recombE,genes:genesE,xticks:xTicksE,xlabel:"Position on chr8 (Mb)"});

function drawBars(B){
  const g=svg.append("g");
  g.append("text").attr("class","letter").attr("x",B.letter[1]).attr("y",B.letter[2]).text(B.letter[0]);
  const y=d3.scaleLinear().domain([0,B.ymax]).range(B.yr);
  const gx=d3.scaleBand().domain(d3.range(4)).range(B.xr).paddingInner(0.17);
  const ix=d3.scaleBand().domain(d3.range(3)).range([0,gx.bandwidth()]).paddingInner(0.15);
  g.append("text").attr("x",B.tx).attr("y",B.ty).attr("text-anchor","middle").attr("font-weight","bold")
    .attr("font-size",B.tfs).attr("fill","#111").text(B.title);
  const ya=g.append("g").attr("transform",`translate(${B.ax},0)`)
    .call(d3.axisLeft(y).tickValues(B.ticks).tickSize(5).tickPadding(3).tickFormat(B.fmt));
  ya.select(".domain").attr("stroke","#999").attr("d",`M0,${y(0)}V${y(B.ymax)}`);
  ya.selectAll("line").attr("stroke","#999");
  ya.selectAll("text").attr("font-size",8).attr("fill","#333").attr("font-family","Liberation Sans, Arial, sans-serif");
  g.append("text").attr("transform",`translate(${B.ytx},${B.yty}) rotate(-90)`).attr("text-anchor","middle")
    .attr("dominant-baseline","central").attr("font-size",12).attr("fill","#111").text("Estimated Odds Ratio");
  for(let gi=0;gi<4;gi++){
    for(let a=0;a<3;a++){
      const bx=gx(gi)+ix(a), bw=ix.bandwidth(), v=B.or[gi][a];
      g.append("rect").attr("x",bx).attr("y",y(v)).attr("width",bw).attr("height",y(0)-y(v))
        .attr("fill",barColors[gi]).attr("stroke","#8a8a8a").attr("stroke-width",0.6);
      g.append("text").attr("x",bx+bw/2).attr("y",B.xly).attr("text-anchor","middle").attr("font-size",8.5).attr("fill","#222").text(alleles[a]);
    }
  }
  g.append("line").attr("x1",B.ax).attr("x2",B.dashEnd).attr("y1",y(1)).attr("y2",y(1))
    .attr("stroke","#b8b8b8").attr("stroke-width",1.5).attr("stroke-dasharray","6,4");
  for(let gi=0;gi<4;gi++){
    for(let a=0;a<3;a++){
      const cx=gx(gi)+ix(a)+ix.bandwidth()/2;
      g.append("line").attr("x1",cx).attr("x2",cx).attr("y1",y(B.lo[gi][a])).attr("y2",y(B.hi[gi][a]))
        .attr("stroke","#3a3a3a").attr("stroke-width",1.7);
    }
  }
  g.append("text").attr("x",B.tx).attr("y",B.xty).attr("text-anchor","middle").attr("font-size",13).attr("fill","#111").text("Number of Minor Alleles");
  B.groups.forEach((name,i)=>{
    const yy=B.leg[1]+i*B.leg[2];
    g.append("rect").attr("x",B.leg[0]).attr("y",yy-B.leg[4]/2).attr("width",B.leg[3]).attr("height",B.leg[4])
      .attr("fill",barColors[i]).attr("stroke","#8a8a8a").attr("stroke-width",0.6);
    g.append("text").attr("x",B.leg[5]).attr("y",yy).attr("dominant-baseline","central").attr("font-size",B.leg[6]).attr("fill","#111").text(name);
  });
}

drawBars({letter:["b.",552,26],title:"rs8102954 (INSR)",tx:748,ty:73,tfs:13,ymax:6,yr:[279,110],ticks:[0,1,2,3,4,5,6],fmt:d3.format("d"),
  ax:588,xr:[600,896],xly:298,xty:320,ytx:543,yty:195,dashEnd:905,groups:groupsB,or:orB,lo:loB,hi:hiB,leg:[610,122,12,11,7,633,12.5]});
drawBars({letter:["d.",552,375],title:"rs869564 (IGFBP2)",tx:753,ty:415,tfs:12.5,ymax:30,yr:[661,438],ticks:[0,5,10,15,20,25,30],fmt:d3.format("d"),
  ax:581,xr:[593,914],xly:678,xty:698,ytx:542,yty:550,dashEnd:925,groups:groupsD,or:orD,lo:loD,hi:hiD,leg:[601,450,11.3,8,6,621,11]});
drawBars({letter:["f.",553,725],title:"rs113759408 (CYP11B1)",tx:745,ty:764,tfs:12.5,ymax:2.5,yr:[1000,787],ticks:[0,0.5,1,1.5,2,2.5],fmt:d3.format(".1f"),
  ax:578,xr:[591,900],xly:1017,xty:1036,ytx:540,yty:893,dashEnd:913,groups:groupsF,or:orF,lo:loF,hi:hiF,leg:[598,798,10.7,9,5.5,617,11.3]});
</script></body></html>
